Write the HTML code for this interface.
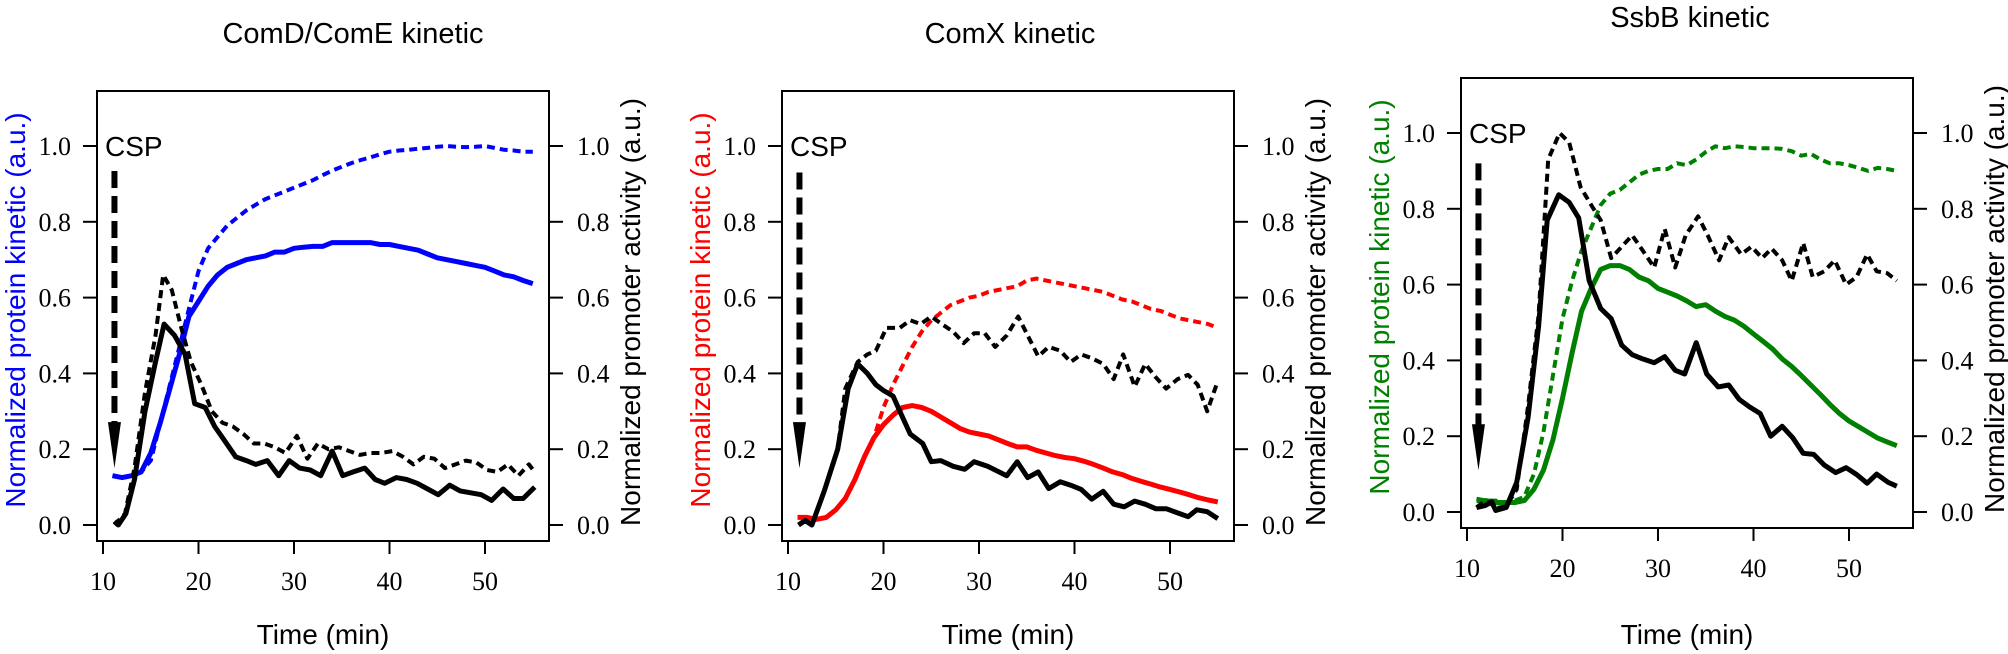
<!DOCTYPE html>
<html><head><meta charset="utf-8"><style>
html,body{margin:0;padding:0;background:#fff;}
svg{display:block;}
text{font-family:"Liberation Sans",sans-serif;}
.tk{font-family:"Liberation Serif",serif;font-size:26px;fill:#000;}
</style></head><body>
<svg id="chart" width="2008" height="654" viewBox="0 0 2008 654" xmlns="http://www.w3.org/2000/svg"></svg>
<script>
// ---------- data ----------
const minutes = [11,12,13,14,15,16,17,18,19,20,21,22,23,24,25,26,27,28,29,30,31,32,33,34,35,36,37,38,39,40,41,42,43,44,45,46,47,48,49,50,51,52,53,54,55];
const xTicks = [10,20,30,40,50];
const yTicks = [0,0.2,0.4,0.6,0.8,1.0];
const yTickLabels = ["0.0","0.2","0.4","0.6","0.8","1.0"];

// Panel 1: ComD/ComE
const comdProtein = [0.13,0.125,0.13,0.14,0.19,0.27,0.36,0.45,0.55,0.59,0.63,0.66,0.68,0.69,0.70,0.705,0.71,0.72,0.72,0.73,0.733,0.735,0.735,0.745,0.745,0.745,0.745,0.745,0.74,0.74,0.735,0.73,0.725,0.715,0.705,0.70,0.695,0.69,0.685,0.68,0.67,0.66,0.655,0.645,0.637];
const comdProteinDashed = [0.13,0.125,0.13,0.14,0.17,0.27,0.37,0.47,0.57,0.67,0.73,0.76,0.79,0.81,0.83,0.845,0.86,0.87,0.88,0.89,0.90,0.91,0.923,0.935,0.945,0.955,0.963,0.97,0.978,0.985,0.988,0.99,0.993,0.995,0.998,1.0,0.998,0.997,0.998,1.0,0.995,0.99,0.988,0.985,0.985];
const comdPromTime = [11.2,11.6,12.4,13.3,14.4,15.5,16.4,17.5,18.6,19.6,20.7,21.7,22.8,23.9,25,26,27.2,28.4,29.5,30.6,31.7,32.8,34,35.1,36.2,37.4,38.5,39.5,40.7,41.8,42.9,44,45.1,46.3,47.4,48.5,49.6,50.7,51.9,53,54,55.2];
const comdPromoter = [0.01,0.0,0.03,0.12,0.30,0.43,0.53,0.50,0.45,0.32,0.31,0.26,0.22,0.18,0.17,0.16,0.17,0.13,0.17,0.15,0.145,0.13,0.195,0.13,0.14,0.15,0.12,0.11,0.125,0.12,0.11,0.095,0.08,0.105,0.09,0.085,0.08,0.065,0.095,0.07,0.07,0.10];
const comdPromDTime = [11.2,12.3,13.3,14.4,15.5,16.3,17.2,18.2,19.2,20.3,21.4,22.5,23.6,24.7,25.8,26.9,28,29.1,30.3,31.4,32.5,33.6,34.7,35.8,36.9,38,39.1,40.3,41.4,42.5,43.6,44.7,45.8,46.9,48,49.1,50.2,51.3,52.4,53.5,54.6,55.2];
const comdPromoterDashed = [0.0,0.03,0.15,0.35,0.50,0.66,0.62,0.52,0.43,0.37,0.30,0.27,0.26,0.24,0.215,0.215,0.205,0.19,0.235,0.175,0.215,0.20,0.205,0.195,0.185,0.19,0.19,0.195,0.18,0.16,0.18,0.175,0.15,0.16,0.17,0.165,0.145,0.14,0.16,0.13,0.16,0.14];

// Panel 2: ComX
const comxProtein = [0.02,0.02,0.015,0.02,0.04,0.07,0.12,0.18,0.23,0.265,0.29,0.31,0.315,0.31,0.30,0.285,0.27,0.255,0.245,0.24,0.235,0.225,0.215,0.206,0.206,0.197,0.19,0.183,0.178,0.175,0.168,0.16,0.15,0.14,0.133,0.123,0.115,0.108,0.10,0.094,0.087,0.08,0.072,0.066,0.061];
const comxProteinDashed = [0.02,0.02,0.015,0.02,0.04,0.07,0.12,0.18,0.23,0.31,0.37,0.42,0.47,0.51,0.54,0.56,0.58,0.59,0.60,0.605,0.615,0.62,0.625,0.63,0.645,0.65,0.645,0.64,0.635,0.63,0.625,0.62,0.615,0.605,0.595,0.59,0.58,0.57,0.565,0.555,0.545,0.54,0.535,0.53,0.52];
const comxPromTime = [11.1,11.8,12.5,13.8,15.2,16.3,17.3,18.3,19.2,20,21,21.9,22.8,24.1,25,26,27.3,28.5,29.5,30.9,32.9,34,35.1,36.2,37.3,38.5,39.6,40.7,41.8,43,44.1,45.2,46.3,47.4,48.5,49.6,50.8,51.9,52.8,53.9,55];
const comxPromoter = [0,0.012,0,0.09,0.2,0.36,0.425,0.40,0.37,0.355,0.34,0.29,0.24,0.215,0.167,0.17,0.155,0.147,0.167,0.155,0.13,0.167,0.125,0.14,0.096,0.114,0.105,0.094,0.068,0.089,0.055,0.048,0.063,0.055,0.043,0.043,0.032,0.022,0.04,0.035,0.017];
const comxPromDTime = [11.1,11.8,12.5,13.8,15.2,16,17.3,18.3,19.2,20.3,21.7,22.8,23.9,25,26.1,27.3,28.4,29.5,30.6,31.7,32.9,34.1,35.1,36.2,37.3,38.5,39.6,40.7,41.8,43,44.1,45.1,46.3,47.4,48.5,49.6,50.8,51.9,52.9,53.9,55];
const comxPromoterDashed = [0,0.012,0,0.09,0.2,0.36,0.43,0.45,0.46,0.52,0.52,0.54,0.53,0.55,0.53,0.51,0.48,0.506,0.506,0.47,0.50,0.55,0.50,0.445,0.47,0.46,0.43,0.45,0.44,0.425,0.385,0.45,0.365,0.425,0.39,0.36,0.385,0.396,0.37,0.30,0.38];

// Panel 3: SsbB
const ssbbProtein = [0.03,0.03,0.025,0.025,0.025,0.03,0.06,0.11,0.19,0.30,0.42,0.53,0.59,0.64,0.65,0.65,0.64,0.62,0.61,0.59,0.58,0.57,0.557,0.542,0.547,0.53,0.516,0.506,0.49,0.47,0.45,0.43,0.404,0.384,0.36,0.335,0.31,0.284,0.26,0.24,0.225,0.21,0.195,0.185,0.175];
const ssbbProteinDashed = [0.035,0.03,0.03,0.025,0.03,0.04,0.10,0.21,0.36,0.51,0.61,0.69,0.75,0.81,0.84,0.85,0.87,0.89,0.90,0.905,0.905,0.92,0.915,0.93,0.95,0.965,0.96,0.965,0.963,0.96,0.96,0.96,0.958,0.952,0.94,0.945,0.93,0.92,0.92,0.915,0.908,0.90,0.908,0.905,0.90];
const ssbbPromTime = [11,11.9,12.6,13,14.1,15.2,16.4,17.5,18.4,19.6,20.7,21.7,22.8,24,25.1,26.2,27.3,28.4,29.6,30.7,31.8,32.8,34,35.1,36.3,37.4,38.5,39.6,40.7,41.8,43,44.1,45.2,46.3,47.4,48.6,49.7,50.8,51.9,52.9,54.1,55];
const ssbbPromoter = [0.012,0.017,0.027,0.004,0.012,0.078,0.25,0.49,0.77,0.837,0.817,0.776,0.61,0.537,0.51,0.44,0.415,0.404,0.394,0.41,0.374,0.364,0.447,0.364,0.33,0.335,0.297,0.277,0.26,0.2,0.226,0.196,0.155,0.152,0.124,0.104,0.117,0.099,0.076,0.1,0.078,0.068];
const ssbbPromDTime = [11,11.9,12.6,13,14.1,15.2,16.4,17.5,18.5,19.7,20.7,21.9,23,24,25.1,26.2,27.3,28.4,29.6,30.7,31.8,32.9,34.2,35.2,36.4,37.4,38.7,39.8,40.9,41.9,43,44,45.2,46.2,47.4,48.5,49.7,50.8,51.9,52.9,54,55];
const ssbbPromoterDashed = [0.012,0.03,0.02,0.01,0.015,0.06,0.28,0.52,0.93,1.0,0.975,0.857,0.81,0.77,0.67,0.70,0.73,0.69,0.645,0.747,0.645,0.73,0.78,0.73,0.664,0.725,0.68,0.70,0.67,0.695,0.664,0.61,0.71,0.62,0.635,0.664,0.60,0.62,0.68,0.635,0.63,0.61];

// ---------- drawing ----------
const NS = "http://www.w3.org/2000/svg";
const svg = document.getElementById("chart");
function mk(tag, attrs, parent) {
  const e = document.createElementNS(NS, tag);
  for (const k in attrs) e.setAttribute(k, attrs[k]);
  (parent || svg).appendChild(e);
  return e;
}

function drawPanel(p) {
  const g = mk("g", {transform: "translate(" + p.dx + "," + p.dy + ")"});
  
  
  const xs = t => 103 + (t - 10) * 9.55;
  const ys = v => 525 - v * 379;

  const title = mk("text", {x: p.titleX, y: p.titleY, "text-anchor": "middle", "font-size": 29}, g);
  title.textContent = p.title;
  
  

  const box = mk("rect", {x: 97, y: 91, width: 452, height: 450, fill: "none", stroke: "#000", "stroke-width": 2}, g);
  
  

  // y ticks left/right
  yTicks.forEach((v, i) => {
    const y = ys(v);
    const tl = mk("line", {x1: 83, x2: 97, y1: y, y2: y, stroke: "#000", "stroke-width": 2}, g);
    
    
    const lt = mk("text", {x: 71, y: y + 9, "text-anchor": "end", class: "tk"}, g);
    lt.textContent = yTickLabels[i];
    
    
    const tr = mk("line", {x1: 549, x2: 563, y1: y, y2: y, stroke: "#000", "stroke-width": 2}, g);
    
    
    const rt = mk("text", {x: 577, y: y + 9, "text-anchor": "start", class: "tk"}, g);
    rt.textContent = yTickLabels[i];
    
    
  });
  // x ticks
  xTicks.forEach(t => {
    const x = xs(t);
    const tk = mk("line", {x1: x, x2: x, y1: 541, y2: 554, stroke: "#000", "stroke-width": 2}, g);
    
    
    const lb = mk("text", {x: x, y: 590, "text-anchor": "middle", class: "tk"}, g);
    lb.textContent = String(t);
    
    
  });
  const xt = mk("text", {x: 323, y: 644 - p.dy, "text-anchor": "middle", "font-size": 28}, g);
  xt.textContent = "Time (min)";
  
  

  const lyt = mk("text", {x: 0, y: 0, "text-anchor": "middle", "font-size": 28, fill: p.color, transform: "translate(25,310) rotate(-90)"}, g);
  lyt.textContent = "Normalized protein kinetic (a.u.)";
  
  
  const ryt = mk("text", {x: 0, y: 0, "text-anchor": "middle", "font-size": 28, fill: "#000", transform: "translate(640,312) rotate(-90)"}, g);
  ryt.textContent = "Normalized promoter activity (a.u.)";
  
  

  // clip
  const cpId = "clip-" + p.id;
  const cp = mk("clipPath", {id: cpId}, g);
  mk("rect", {x: 98, y: 92, width: 450, height: 448}, cp);

  function series(tArr, vArr, color, dashed, w, name) {
    const d = tArr.map((t, i) => (i ? "L" : "M") + xs(t).toFixed(1) + "," + ys(vArr[i]).toFixed(1)).join(" ");
    const attrs = {d: d, fill: "none", stroke: color, "stroke-width": w, "stroke-linejoin": "round", "clip-path": "url(#" + cpId + ")"};
    if (dashed) attrs["stroke-dasharray"] = "8 5";
    const path = mk("path", attrs, g);
    
    
  }
  series(minutes, p.protD, p.color, true, 4, 'protein-dashed-line');
  series(minutes, p.prot, p.color, false, 5, 'protein-solid-line');
  series(p.promDT, p.promD, "#000", true, 4, 'promoter-dashed-line');
  series(p.promT, p.prom, "#000", false, 5, 'promoter-solid-line');

  // CSP arrow
  const ax = xs(11.2);
  const shaft = mk("line", {x1: ax, x2: ax, y1: ys(p.arrowTop), y2: ys(p.arrowTip) - 40, stroke: "#000", "stroke-width": 6, "stroke-dasharray": "17 8"}, g);
  
  
  const tipY = ys(p.arrowTip);
  const head = mk("path", {d: "M" + (ax - 6.5) + "," + (tipY - 46) + " L" + (ax + 6.5) + "," + (tipY - 46) + " L" + ax + "," + tipY + " Z", fill: "#000"}, g);
  
  
  const csp = mk("text", {x: 105, y: ys(1.0) + 10, "font-size": 28}, g);
  csp.textContent = "CSP";
  
  
}

drawPanel({id: "comd", dx: 0, dy: 0, title: "ComD/ComE kinetic", titleX: 353, titleY: 43, color: "#0000ff",
  prot: comdProtein, protD: comdProteinDashed, promT: comdPromTime, prom: comdPromoter, promDT: comdPromDTime, promD: comdPromoterDashed, arrowTop: 0.934, arrowTip: 0.15});
drawPanel({id: "comx", dx: 685, dy: 0, title: "ComX kinetic", titleX: 325, titleY: 43, color: "#ff0000",
  prot: comxProtein, protD: comxProteinDashed, promT: comxPromTime, prom: comxPromoter, promDT: comxPromDTime, promD: comxPromoterDashed, arrowTop: 0.93, arrowTip: 0.15});
drawPanel({id: "ssbb", dx: 1364, dy: -13, title: "SsbB kinetic", titleX: 326, titleY: 40, color: "#008000",
  prot: ssbbProtein, protD: ssbbProteinDashed, promT: ssbbPromTime, prom: ssbbPromoter, promDT: ssbbPromDTime, promD: ssbbPromoterDashed, arrowTop: 0.92, arrowTip: 0.11});
</script>
</body></html>
